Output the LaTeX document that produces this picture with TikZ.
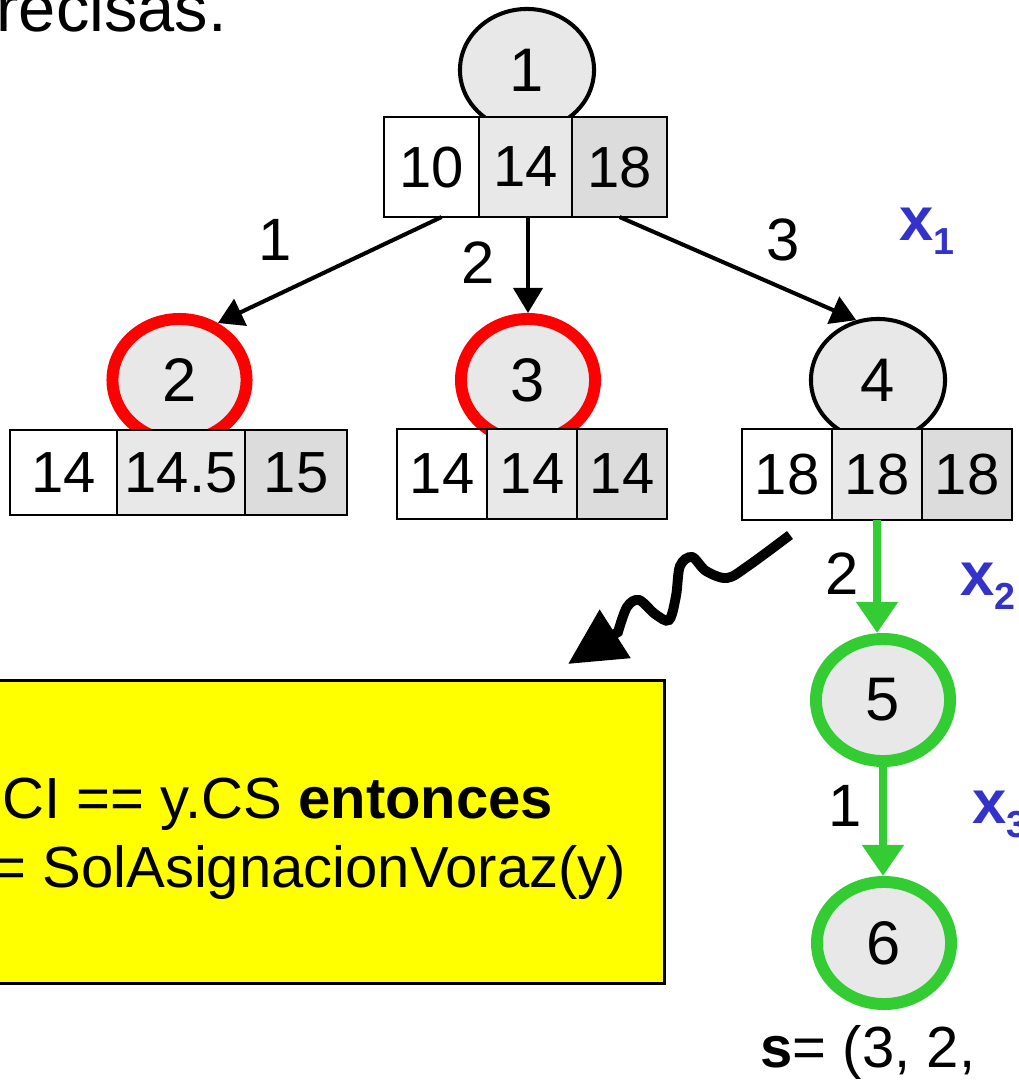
\documentclass[tikz,border=0pt]{standalone}
\usepackage{fontspec}
\setmainfont{Liberation Sans}
\usetikzlibrary{arrows.meta,shapes.geometric,positioning}

\definecolor{cellgray}{HTML}{E8E8E8}
\definecolor{celldark}{HTML}{DCDCDC}
\definecolor{podared}{HTML}{FF0000}
\definecolor{solgreen}{HTML}{33CC33}
\definecolor{varblue}{HTML}{3333CC}
\definecolor{condyellow}{HTML}{FFFF00}

\tikzset{
  vert/.style={ellipse,draw,fill=cellgray,line width=1.15pt,inner sep=0pt,
    minimum width=1.34cm,minimum height=1.22cm,font=\fontsize{17.5}{21}\selectfont},
  poda/.style={vert,draw=podared,line width=3.4pt},
  sol/.style={vert,draw=solgreen,line width=3.4pt},
  cell/.style={draw,line width=0.6pt,inner sep=0pt,outer sep=0pt},
  rama/.style={line width=1.15pt,-{Triangle[length=0.25cm,width=0.29cm]}},
  ramasol/.style={color=solgreen,line width=2.5pt,-{Triangle[length=0.31cm,width=0.40cm]}},
  wave/.style={line width=2.8pt,-{Triangle[length=0.56cm,width=0.55cm]}},
  lbl/.style={inner sep=0pt,font=\fontsize{17}{20}\selectfont},
  var/.style={inner sep=0pt,anchor=base west,text=varblue,font=\fontsize{17.5}{21}\selectfont\bfseries}
}
\newcommand{\varsub}[1]{x\raisebox{-0.145cm}{\fontsize{10.7}{12}\selectfont #1}}

\begin{document}
\begin{tikzpicture}[x=0.01cm,y=-0.01cm,font=\fontsize{16.5}{19.8}\selectfont]

        \useasboundingbox (0,0) rectangle (1019,1082) ;
        \clip (0,0) rectangle (1019,1082) ;

        \node [anchor=base west,inner sep=0pt,font=\fontsize{19}{22}\selectfont] (titulo) at (-4,32) {recisas.} ;

        % nodos del arbol
        \node [vert] (n1) at (527,70) {1} ;
        \node [poda] (n2) at (179.5,380) {2} ;
        \node [poda] (n3) at (528,380) {3} ;
        \node [vert] (n4) at (878,380) {4} ;
        \node [sol] (n5) at (883,700) {5} ;
        \node [sol] (n6) at (884,943) {6} ;

        % cotas: CI, estimacion, CS
        \node [cell,minimum width=0.95cm,minimum height=1cm,anchor=north west] (ci1) at (384,117) {10} ;
        \node [cell,fill=cellgray,minimum width=0.93cm,minimum height=1cm,right=0pt of ci1] (be1) {14} ;
        \node [cell,fill=celldark,minimum width=0.95cm,minimum height=1cm,right=0pt of be1] (cs1) {18} ;

        \node [cell,minimum width=1.07cm,minimum height=0.85cm,anchor=north west] (ci2) at (10,430) {14} ;
        \node [cell,fill=cellgray,minimum width=1.28cm,minimum height=0.85cm,right=0pt of ci2] (be2) {14.5} ;
        \node [cell,fill=celldark,minimum width=1.02cm,minimum height=0.85cm,right=0pt of be2] (cs2) {15} ;

        \node [cell,minimum width=0.90cm,minimum height=0.90cm,anchor=north west] (ci3) at (397,429) {14} ;
        \node [cell,fill=cellgray,minimum width=0.90cm,minimum height=0.90cm,right=0pt of ci3] (be3) {14} ;
        \node [cell,fill=celldark,minimum width=0.90cm,minimum height=0.90cm,right=0pt of be3] (cs3) {14} ;

        \node [cell,minimum width=0.90cm,minimum height=0.91cm,anchor=north west] (ci4) at (742,429) {18} ;
        \node [cell,fill=cellgray,minimum width=0.90cm,minimum height=0.91cm,right=0pt of ci4] (be4) {18} ;
        \node [cell,fill=celldark,minimum width=0.90cm,minimum height=0.91cm,right=0pt of be4] (cs4) {18} ;

        % ramas
        \draw [rama] ([xshift=0.1cm]ci1.south) to (n2.56) ;
        \draw [rama] (n3.north |- be1.south) to (n3.north) ;
        \draw [rama] (cs1.south) to (n4.110) ;
        \draw [ramasol] (be4.south) to (be4.south |- n5.north) ;
        \draw [ramasol] (n5.south) to (n5.south |- n6.north) ;

        \node [lbl] (r12) at (275,240) {1} ;
        \node [lbl] (r13) at (478,263) {2} ;
        \node [lbl] (r14) at (783,240) {3} ;
        \node [lbl] (r45) at (842,574) {2} ;
        \node [lbl] (r56) at (845,806) {1} ;

        \node [var] (x1) at (899,240) {\varsub{1}} ;
        \node [var] (x2) at (960,595) {\varsub{2}} ;
        \node [var] (x3) at (972,823) {\varsub{3}} ;

        % caja amarilla
        \node [draw,fill=condyellow,line width=0.8pt,minimum width=7.5cm,minimum height=3.03cm,anchor=north east] (cond) at (666,679) {} ;
        \node [anchor=base west,inner sep=0pt] (cond1) at (2,818) {CI == y.CS \textbf{entonces}} ;
        \node [anchor=base east,inner sep=0pt] (cond2) at (627,887) {= SolAsignacionVoraz(y)} ;

        \coordinate (wavefrom) at (790,535) ;
        \coordinate (waveto) at (568,664) ;
        \draw [wave] plot [smooth,tension=0.55] coordinates {(wavefrom) (748,566) (727,578) (706,571) (692,557) (680,566) (676,596) (669,620) (655,614) (639,600) (627,607) (618,632)} to (waveto) ;

        \node [anchor=base west,inner sep=0pt] (solucion) at (760,1067) {\textbf{s}= (3, 2,} ;

      \end{tikzpicture}
\end{document}
